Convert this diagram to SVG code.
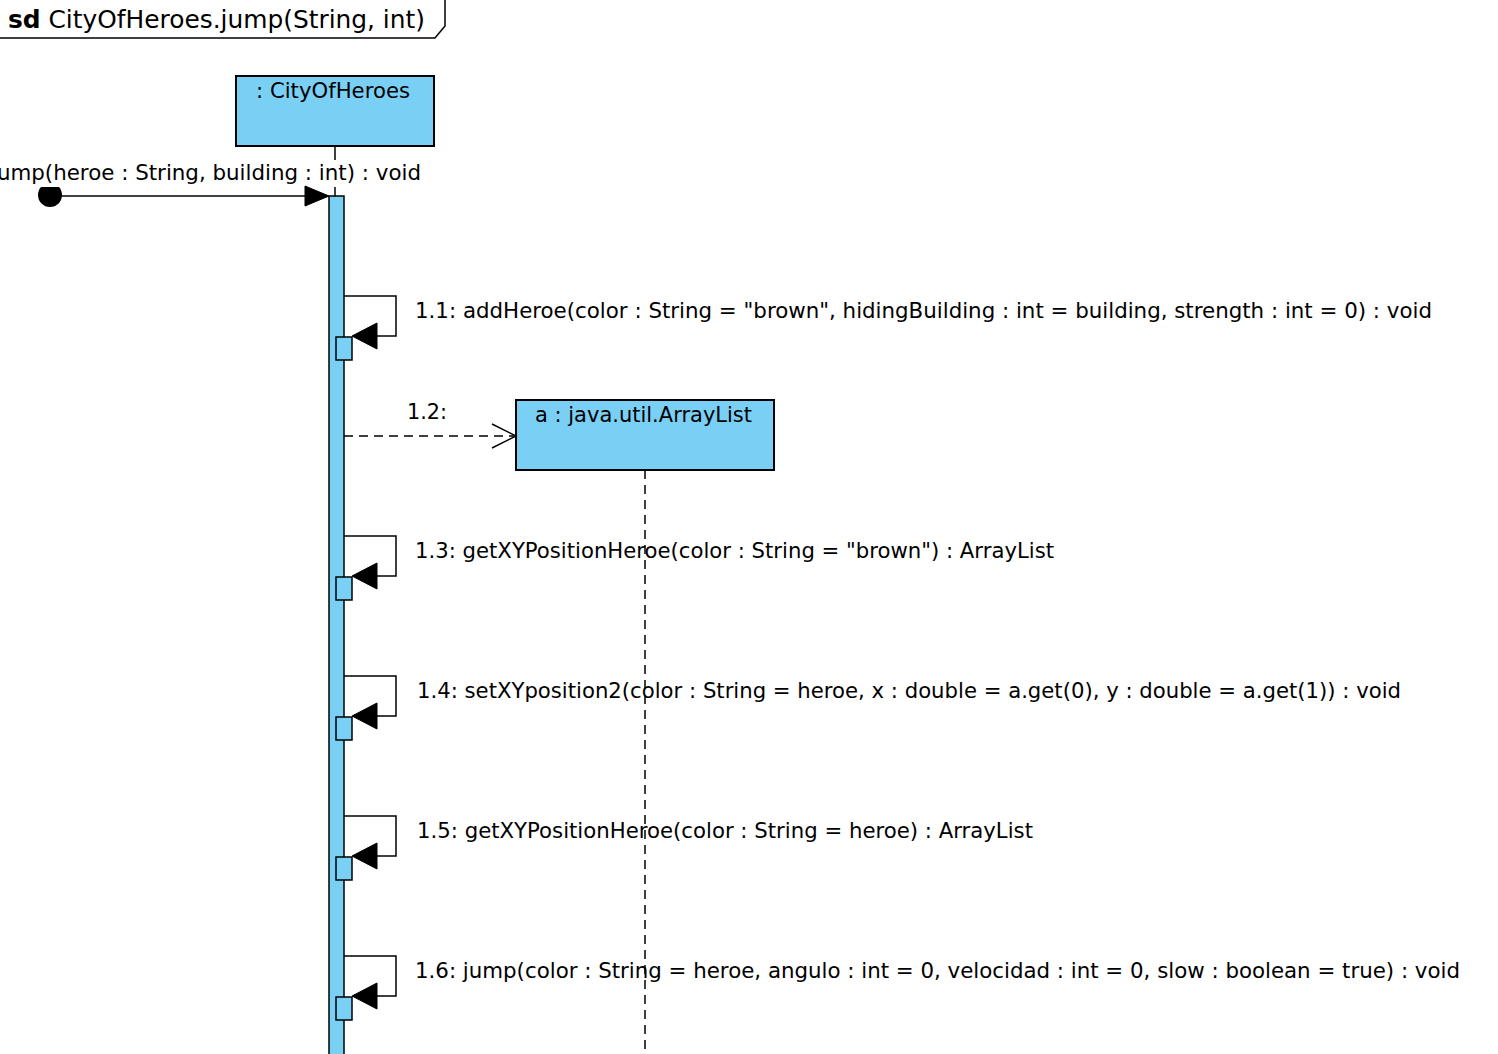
<svg xmlns="http://www.w3.org/2000/svg" width="1498" height="1054" viewBox="0 0 1498 1054">
  <style>
    text { font-family: "DejaVu Sans", "Liberation Sans", sans-serif; font-size: 21px; fill: #000; }
    .title { font-size: 24px; }
    .box { fill: #7ACFF5; stroke: #000; stroke-width: 2; }
    .act { fill: #7ACFF5; stroke: #000; stroke-width: 1.5; }
    .line { fill: none; stroke: #000; stroke-width: 1.5; }
    .dash { fill: none; stroke: #000; stroke-width: 1.5; stroke-dasharray: 9 6; }
    .head { fill: #000; stroke: #000; stroke-width: 1; }
  </style>

  <!-- interaction frame label -->
  <g id="frame">
    <path class="line" d="M0,38 H435 L445,26 V0"/>
    <text class="title" x="8" y="28" textLength="417" lengthAdjust="spacingAndGlyphs"><tspan font-weight="bold">sd</tspan> CityOfHeroes.jump(String, int)</text>
  </g>

  <!-- lifeline: CityOfHeroes -->
  <g id="cityOfHeroes">
    <rect class="box" x="236" y="76" width="198" height="70"/>
    <text x="256" y="98" textLength="154" lengthAdjust="spacingAndGlyphs">: CityOfHeroes</text>
    <line class="line" x1="335" y1="146" x2="335" y2="196"/>
    <rect class="act" x="329" y="196" width="15" height="870"/>
  </g>

  <!-- lifeline: ArrayList -->
  <g id="arrayList">
    <rect class="box" x="516" y="400" width="258" height="70"/>
    <text x="535" y="422" textLength="217" lengthAdjust="spacingAndGlyphs">a : java.util.ArrayList</text>
    <line class="dash" x1="645" y1="470" x2="645" y2="1054"/>
  </g>

  <!-- nested activations -->
  <g id="activations">
    <rect class="act" x="336" y="337" width="16" height="23"/>
    <rect class="act" x="336" y="577" width="16" height="23"/>
    <rect class="act" x="336" y="717" width="16" height="23"/>
    <rect class="act" x="336" y="857" width="16" height="23"/>
    <rect class="act" x="336" y="997" width="16" height="23"/>
  </g>

  <g id="connectors">
    <!-- found message -->
    <circle cx="50" cy="195" r="12" fill="#000"/>
    <rect x="0" y="160" width="430" height="27" fill="#fff"/>
    <line class="line" x1="60" y1="196" x2="310" y2="196"/>
    <polygon class="head" points="329,196 305,186 305,206"/>
    <text x="-9" y="180" textLength="430" lengthAdjust="spacingAndGlyphs">jump(heroe : String, building : int) : void</text>

    <!-- 1.1 self call -->
    <path class="line" d="M344,296 H396 V336 H370"/>
    <polygon class="head" points="352,336 377,323 377,349"/>
    <text x="415" y="318" textLength="1017" lengthAdjust="spacingAndGlyphs">1.1: addHeroe(color : String = "brown", hidingBuilding : int = building, strength : int = 0) : void</text>

    <!-- 1.2 create -->
    <line class="dash" x1="344" y1="436" x2="514" y2="436"/>
    <path class="line" d="M492,424 L516,436 L492,448"/>
    <text x="407" y="419" textLength="40" lengthAdjust="spacingAndGlyphs">1.2:</text>

    <!-- 1.3 self call -->
    <path class="line" d="M344,536 H396 V576 H370"/>
    <polygon class="head" points="352,576 377,563 377,589"/>
    <text x="415" y="558" textLength="639" lengthAdjust="spacingAndGlyphs">1.3: getXYPositionHeroe(color : String = "brown") : ArrayList</text>

    <!-- 1.4 self call -->
    <path class="line" d="M344,676 H396 V716 H370"/>
    <polygon class="head" points="352,716 377,703 377,729"/>
    <text x="417" y="698" textLength="984" lengthAdjust="spacingAndGlyphs">1.4: setXYposition2(color : String = heroe, x : double = a.get(0), y : double = a.get(1)) : void</text>

    <!-- 1.5 self call -->
    <path class="line" d="M344,816 H396 V856 H370"/>
    <polygon class="head" points="352,856 377,843 377,869"/>
    <text x="417" y="838" textLength="616" lengthAdjust="spacingAndGlyphs">1.5: getXYPositionHeroe(color : String = heroe) : ArrayList</text>

    <!-- 1.6 self call -->
    <path class="line" d="M344,956 H396 V996 H370"/>
    <polygon class="head" points="352,996 377,983 377,1009"/>
    <text x="415" y="978" textLength="1045" lengthAdjust="spacingAndGlyphs">1.6: jump(color : String = heroe, angulo : int = 0, velocidad : int = 0, slow : boolean = true) : void</text>
  </g>
</svg>
